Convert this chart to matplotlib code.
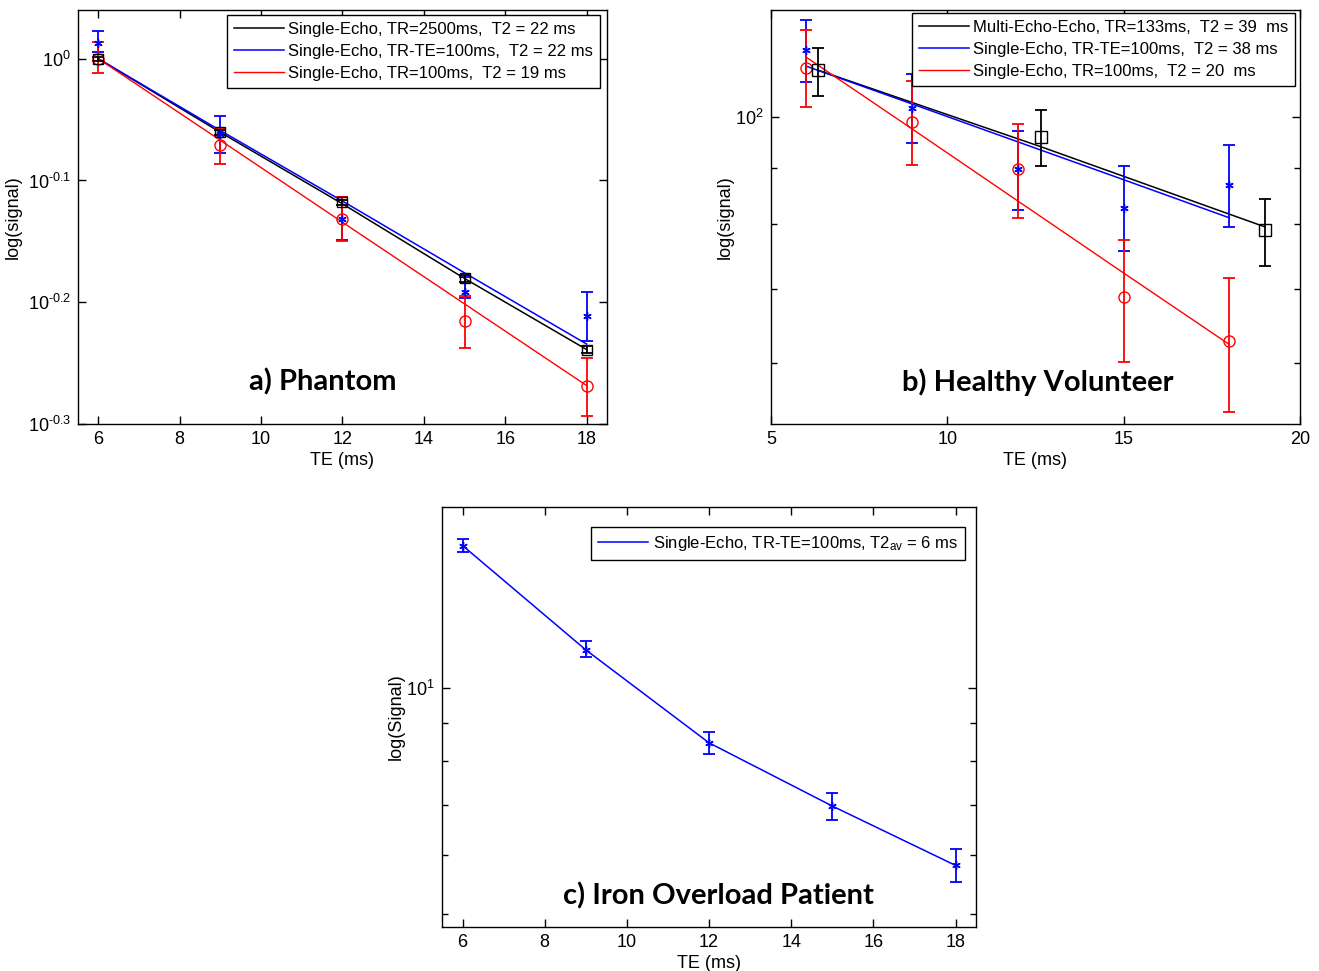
import numpy as np
import matplotlib
matplotlib.use('Agg')
import matplotlib.pyplot as plt
from matplotlib.ticker import FixedLocator, NullLocator, NullFormatter

plt.rcParams['font.family'] = ['Liberation Sans', 'DejaVu Sans']
plt.rcParams['mathtext.fontset'] = 'custom'
plt.rcParams['mathtext.rm'] = 'Liberation Sans'
plt.rcParams['mathtext.it'] = 'Liberation Sans:italic'
plt.rcParams['mathtext.default'] = 'regular'

# a) Phantom
te_a = [6, 9, 12, 15, 18]
a_black_fit = [1.0, 0.870, 0.760, 0.660, 0.577]
a_blue_fit = [1.0, 0.873, 0.764, 0.667, 0.583]
a_red_fit = [1.0, 0.857, 0.734, 0.629, 0.539]
a_black_pts = [1.0, 0.870, 0.762, 0.660, 0.577]
a_black_lo = [0.996, 0.866, 0.758, 0.656, 0.573]
a_black_hi = [1.004, 0.874, 0.766, 0.664, 0.581]
a_blue_pts = [1.030, 0.868, 0.739, 0.643, 0.615]
a_blue_lo = [1.012, 0.837, 0.710, 0.636, 0.586]
a_blue_hi = [1.053, 0.898, 0.770, 0.662, 0.643]
a_red_pts = [1.0, 0.850, 0.739, 0.609, 0.539]
a_red_lo = [0.974, 0.820, 0.709, 0.579, 0.509]
a_red_hi = [1.033, 0.878, 0.770, 0.639, 0.568]
a_labels = ['Single-Echo, TR=2500ms,  T2 = 22 ms',
            'Single-Echo, TR-TE=100ms,  T2 = 22 ms',
            'Single-Echo, TR=100ms,  T2 = 19 ms']
a_yticks = [10 ** 0, 10 ** -0.1, 10 ** -0.2, 10 ** -0.3]
a_yticklabels = [r'$10^{0}$', r'$10^{\text{-0.1}}$', r'$10^{\text{-0.2}}$',
                 r'$10^{\text{-0.3}}$']

# b) Healthy volunteer
te_b = [6, 9, 12, 15, 18]
te_b_multi = [6.33, 12.67, 19.0]
b_black_fit = [110.3, 94.0, 79.6]
b_black_pts = [110.3, 95.9, 79.1]
b_black_lo = [104.6, 90.3, 73.3]
b_black_hi = [115.6, 101.5, 84.3]
b_blue_fit = [111.2, 102.8, 95.0, 87.8, 81.1]
b_blue_pts = [115.1, 101.9, 89.8, 82.7, 86.8]
b_blue_lo = [107.7, 94.7, 82.5, 75.7, 79.6]
b_blue_hi = [122.4, 109.3, 97.1, 90.3, 94.3]
b_red_fit = [113.3, 97.6, 84.0, 72.3, 62.3]
b_red_pts = [110.9, 99.0, 89.8, 68.8, 62.7]
b_red_lo = [102.1, 90.5, 81.0, 60.1, 54.1]
b_red_hi = [119.9, 107.9, 98.6, 77.4, 71.5]
b_labels = ['Multi-Echo-Echo, TR=133ms,  T2 = 39  ms',
            'Single-Echo, TR-TE=100ms,  T2 = 38 ms',
            'Single-Echo, TR=100ms,  T2 = 20  ms']

# c) Iron overload patient
te_c = [6, 9, 12, 15, 18]
c_pts = [15.49, 11.25, 8.46, 6.97, 5.81]
c_lo = [15.18, 10.99, 8.17, 6.68, 5.53]
c_hi = [15.80, 11.56, 8.75, 7.26, 6.11]
c_label = 'Single-Echo, TR-TE=100ms, T2$_{av}$ = 6 ms'

fig = plt.figure(figsize=(13.19, 9.71), dpi=100)
ax_a = fig.add_axes([0.0591, 0.5633, 0.4011, 0.4264])
ax_b = fig.add_axes([0.5845, 0.5633, 0.4011, 0.4264])
ax_c = fig.add_axes([0.3351, 0.0453, 0.4049, 0.4325])


def errs(pts, lo, hi):
    pts = np.array(pts)
    return [pts - np.array(lo), np.array(hi) - pts]


def pts_with_err(ax, x, pts, lo, hi, color, marker, ms):
    ax.errorbar(x, pts, yerr=errs(pts, lo, hi), fmt='none', ecolor=color,
                elinewidth=1.3, capsize=4, capthick=1.3, zorder=3)
    ax.plot(x, pts, linestyle='none', marker=marker, ms=ms, mfc='none',
            mec=color, mew=1.0, zorder=4)


def style(ax):
    ax.set_yscale('log')
    ax.tick_params(which='both', direction='in', top=True, right=True,
                   labelsize=13, pad=5)
    ax.tick_params(which='major', length=6, width=1)
    ax.tick_params(which='minor', length=4, width=1)
    for s in ax.spines.values():
        s.set_linewidth(1.0)
    ax.set_xlabel('TE (ms)', fontsize=13, labelpad=3)


ast = (6, 2, 0)

# panel a
style(ax_a)
ax_a.plot(te_a, a_black_fit, color='black', lw=1.1, label=a_labels[0], zorder=2)
ax_a.plot(te_a, a_blue_fit, color='blue', lw=1.1, label=a_labels[1], zorder=2)
ax_a.plot(te_a, a_red_fit, color='red', lw=1.0, label=a_labels[2], zorder=2)
pts_with_err(ax_a, te_a, a_blue_pts, a_blue_lo, a_blue_hi, 'blue', ast, 6)
pts_with_err(ax_a, te_a, a_red_pts, a_red_lo, a_red_hi, 'red', 'o', 8)
pts_with_err(ax_a, te_a, a_black_pts, a_black_lo, a_black_hi, 'black', 's', 7)
ax_a.set_xlim(5.5, 18.5)
ax_a.set_ylim(10 ** -0.3, 10 ** 0.04)
ax_a.set_xticks([6, 8, 10, 12, 14, 16, 18])
ax_a.yaxis.set_major_locator(FixedLocator(a_yticks))
ax_a.set_yticklabels(a_yticklabels)
ax_a.yaxis.set_minor_locator(NullLocator())
ax_a.set_ylabel('log(signal)', fontsize=13, labelpad=4)
ax_a.text(0.463, 0.101, 'a) Phantom', transform=ax_a.transAxes, ha='center',
          va='center', fontsize=21, fontweight='bold', family='Lato')

# panel b
style(ax_b)
ax_b.plot(te_b_multi, b_black_fit, color='black', lw=1.1, label=b_labels[0], zorder=2)
ax_b.plot(te_b, b_blue_fit, color='blue', lw=1.1, label=b_labels[1], zorder=2)
ax_b.plot(te_b, b_red_fit, color='red', lw=1.0, label=b_labels[2], zorder=2)
pts_with_err(ax_b, te_b, b_blue_pts, b_blue_lo, b_blue_hi, 'blue', ast, 6)
pts_with_err(ax_b, te_b, b_red_pts, b_red_lo, b_red_hi, 'red', 'o', 8)
pts_with_err(ax_b, te_b_multi, b_black_pts, b_black_lo, b_black_hi, 'black', 's', 8)
ax_b.set_xlim(5, 20)
ax_b.set_ylim(52.8, 125.0)
ax_b.set_xticks([5, 10, 15, 20])
ax_b.yaxis.set_major_locator(FixedLocator([100]))
ax_b.set_yticklabels(['$10^{2}$'])
ax_b.yaxis.set_minor_locator(FixedLocator([60, 70, 80, 90]))
ax_b.yaxis.set_minor_formatter(NullFormatter())
ax_b.set_ylabel('log(signal)', fontsize=13, labelpad=1)
ax_b.text(0.505, 0.101, 'b) Healthy Volunteer', transform=ax_b.transAxes,
          ha='center', va='center', fontsize=21, fontweight='bold', family='Lato')

# panel c
style(ax_c)
ax_c.plot(te_c, c_pts, color='blue', lw=1.1, label=c_label, zorder=2)
pts_with_err(ax_c, te_c, c_pts, c_lo, c_hi, 'blue', ast, 6)
ax_c.set_xlim(5.5, 18.5)
ax_c.set_ylim(4.81, 17.43)
ax_c.set_xticks([6, 8, 10, 12, 14, 16, 18])
ax_c.yaxis.set_major_locator(FixedLocator([10]))
ax_c.set_yticklabels(['$10^{1}$'])
ax_c.yaxis.set_minor_locator(FixedLocator([5, 6, 7, 8, 9]))
ax_c.yaxis.set_minor_formatter(NullFormatter())
ax_c.set_ylabel('log(Signal)', fontsize=13, labelpad=1)
ax_c.text(0.517, 0.074, 'c) Iron Overload Patient', transform=ax_c.transAxes,
          ha='center', va='center', fontsize=21, fontweight='bold', family='Lato')

leg_kw = dict(fontsize=12, frameon=True, fancybox=False, framealpha=1,
              edgecolor='black', handlelength=3.0, borderaxespad=0,
              labelspacing=0.42, borderpad=0.42, handletextpad=0.25)
for ax, anchor in [(ax_a, (0.987, 0.988)), (ax_b, (0.991, 0.993)),
                   (ax_c, (0.979, 0.952))]:
    leg = ax.legend(loc='upper right', bbox_to_anchor=anchor, **leg_kw)
    leg.get_frame().set_linewidth(1.0)

fig.savefig('out.png', dpi=100)
